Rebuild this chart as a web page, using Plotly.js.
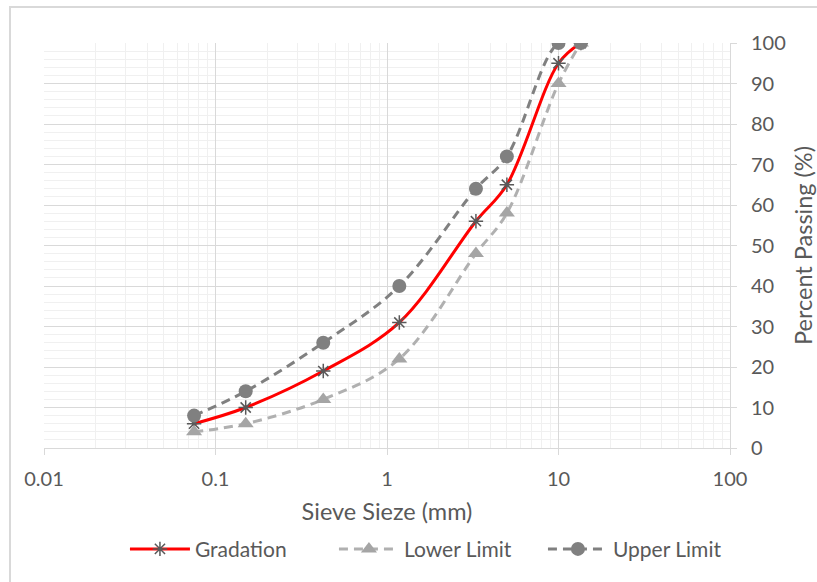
<!DOCTYPE html>
<html>
<head>
<meta charset="utf-8">
<script src="https://cdn.plot.ly/plotly-3.0.1.min.js"></script>
<style>
  html, body { margin: 0; padding: 0; background: #ffffff; overflow: hidden; }
  #frame { position: absolute; left: 9px; top: 6px; width: 900px; height: 700px; border-left: 2px solid #d9d9d9; border-top: 2px solid #d9d9d9; box-sizing: border-box; pointer-events: none; z-index: 5; }
  #chart { position: absolute; left: 0; top: 0; width: 817px; height: 582px; }
</style>
</head>
<body>
<div id="chart"></div>
<div id="frame"></div>
<script>
// Sieve sizes (mm)
const sieveSizes = [0.075, 0.15, 0.425, 1.18, 3.3, 5, 10, 13.5];
// Percent passing
const gradation  = [6, 10, 19, 31, 56, 65, 95, 100];
const lowerLimit = [4, 6, 12, 22, 48, 58, 90, 100];
const upperLimit = [8, 14, 26, 40, 64, 72, 100, 100];
const seriesNames = ['Gradation', 'Lower Limit', 'Upper Limit'];
const xTickVals = [0.01, 0.1, 1, 10, 100];
const xTickText = ['0.01', '0.1', '1', '10', '100'];

// minor log gridline positions (2..9 within each decade)
const minorX = [];
for (let e = -2; e < 2; e++) for (let m = 2; m <= 9; m++) minorX.push(m * Math.pow(10, e));

const fontFam = 'Lato, "Noto Sans", sans-serif';
const textColor = '#595959';

const traces = [
  {
    x: sieveSizes, y: gradation, name: seriesNames[0], type: 'scatter', mode: 'lines+markers',
    line: { color: '#ff0000', width: 3, shape: 'spline', smoothing: 1 },
    marker: { symbol: 'asterisk-open', size: 12, color: '#595959', line: { color: '#595959', width: 1.5 } }
  },
  {
    x: sieveSizes, y: lowerLimit, name: seriesNames[1], type: 'scatter', mode: 'lines+markers',
    line: { color: '#b0b0b0', width: 3, dash: '9px,6px', shape: 'spline', smoothing: 1 },
    marker: { symbol: 'triangle-up', size: 14, color: '#a5a5a5' }
  },
  {
    x: sieveSizes, y: upperLimit, name: seriesNames[2], type: 'scatter', mode: 'lines+markers',
    line: { color: '#808080', width: 3, dash: '9px,6px', shape: 'spline', smoothing: 1 },
    marker: { symbol: 'circle', size: 14, color: '#808080' }
  }
];

const layout = {
  width: 817, height: 582,
  margin: { l: 44, r: 87, t: 43, b: 134 },
  paper_bgcolor: 'rgba(0,0,0,0)', plot_bgcolor: '#ffffff',
  font: { family: fontFam, color: textColor, size: 20 },
  showlegend: true,
  legend: {
    orientation: 'h', x: 0.118, xanchor: 'left', y: -0.25, yanchor: 'middle',
    font: { size: 21, color: textColor, family: fontFam },
    itemwidth: 60, entrywidth: 134, entrywidthmode: 'pixels',
    traceorder: 'normal', bgcolor: 'rgba(0,0,0,0)'
  },
  xaxis: {
    type: 'log', range: [-2, 2],
    tickvals: xTickVals, ticktext: xTickText,
    ticks: 'outside', ticklen: 6, tickcolor: '#d9d9d9', tickwidth: 1,
    ticklabelstandoff: 7,
    showline: true, linecolor: '#d9d9d9', linewidth: 1, mirror: false,
    showgrid: true, gridcolor: '#d9d9d9', gridwidth: 1,
    minor: { tickmode: 'array', tickvals: minorX, showgrid: true, gridcolor: '#f0f0f0', gridwidth: 1, ticks: '' },
    zeroline: false,
    tickfont: { size: 20, color: textColor, family: fontFam },
    title: { text: 'Sieve Sieze (mm)', font: { size: 23.5, color: textColor, family: fontFam }, standoff: 14 }
  },
  yaxis: {
    side: 'right', range: [0, 100], dtick: 10, tick0: 0,
    ticks: 'outside', ticklen: 6, tickcolor: '#d9d9d9', tickwidth: 1,
    ticklabelstandoff: 10,
    showline: true, linecolor: '#d9d9d9', linewidth: 1,
    showgrid: true, gridcolor: '#d9d9d9', gridwidth: 1,
    minor: { dtick: 2, tick0: 0, showgrid: true, gridcolor: '#f0f0f0', gridwidth: 1, ticks: '' },
    zeroline: false,
    tickfont: { size: 20, color: textColor, family: fontFam },
    title: { text: 'Percent Passing (%)', font: { size: 23.5, color: textColor, family: fontFam }, standoff: 30 }
  }
};

Plotly.newPlot('chart', traces, layout, { displayModeBar: false, staticPlot: true });
</script>
</body>
</html>
